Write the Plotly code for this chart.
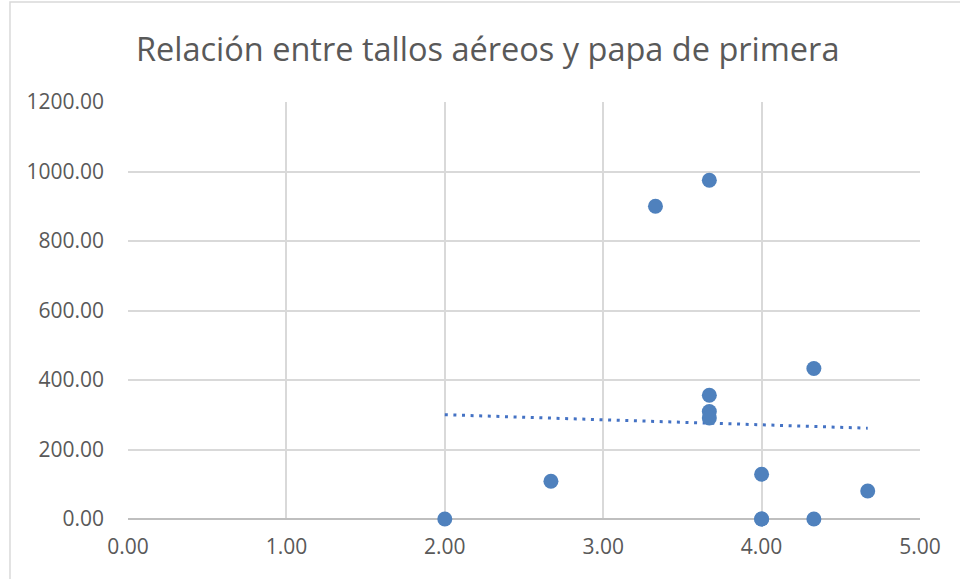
import numpy as np
import plotly.graph_objects as go

# Aerial stems per plant (x) vs. first-grade potato yield (y)
tallos = [2.00, 2.67, 3.33, 3.67, 3.67, 3.67, 3.67, 4.00, 4.00, 4.00, 4.33, 4.33, 4.67]
papa_primera = [0.0, 108.5, 900.0, 975.0, 356.0, 309.0, 291.0, 128.6, 0.0, 0.0, 433.0, 0.0, 80.6]

x_ticks = [0, 1, 2, 3, 4, 5]
y_ticks = [0, 200, 400, 600, 800, 1000, 1200]

title_text = "Relación entre tallos aéreos y papa de primera"

# Linear trendline over the data span
slope, intercept = np.polyfit(tallos, papa_primera, 1)
trend_x = [min(tallos), max(tallos)]
trend_y = [slope * v + intercept for v in trend_x]

POINT = "#4F81BD"
TREND = "#4472C4"
GRID = "#D9D9D9"
TEXT = "#595959"
FONT = "Open Sans"

fig = go.Figure()
fig.add_trace(go.Scatter(
    x=trend_x, y=trend_y, mode="lines",
    line=dict(color=TREND, width=3, dash="3px,5.6px"),
    hoverinfo="skip", showlegend=False,
))
fig.add_trace(go.Scatter(
    x=tallos, y=papa_primera, mode="markers",
    marker=dict(color=POINT, size=15, line=dict(width=0)),
    cliponaxis=False, showlegend=False,
))

fig.update_layout(
    width=960, height=579,
    margin=dict(l=128, r=40, t=102, b=60),
    paper_bgcolor="white", plot_bgcolor="white",
    font=dict(family=FONT, color=TEXT),
    title=dict(text=title_text, x=0.508, xanchor="center", y=0.915, yanchor="middle",
               font=dict(family=FONT, size=32.5, color=TEXT)),
    showlegend=False,
    shapes=[dict(type="rect", xref="paper", yref="paper",
                 x0=-0.149, x1=1.3, y0=-0.5, y1=1.2398,
                 line=dict(color=GRID, width=1.5), layer="below")],
)

fig.update_xaxes(
    range=[0, 5], tickvals=x_ticks, ticktext=[f"{v:.2f}" for v in x_ticks],
    showgrid=True, gridcolor=GRID, gridwidth=1.5,
    zeroline=False, showline=False, ticks="",
    tickfont=dict(family=FONT, size=21, color=TEXT),
    ticklabelstandoff=13,
)
fig.update_yaxes(
    range=[0, 1200], tickvals=y_ticks, ticktext=[f"{v:.2f}" for v in y_ticks],
    showgrid=True, gridcolor=GRID, gridwidth=1.5,
    zeroline=True, zerolinecolor="#BFBFBF", zerolinewidth=1.5,
    showline=False, ticks="",
    tickfont=dict(family=FONT, size=21, color=TEXT),
    ticklabelstandoff=23,
)

fig.write_html("out.html")
